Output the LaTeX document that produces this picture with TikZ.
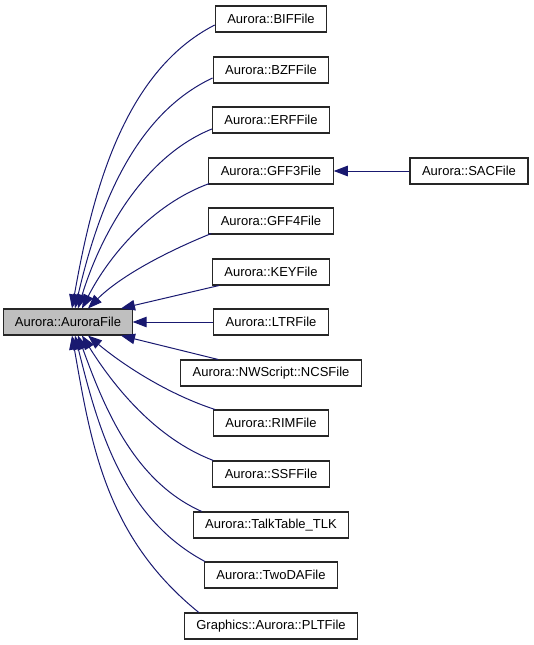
\documentclass[tikz,border=0pt]{standalone}
\usepackage{fontspec}
\setmainfont{Liberation Sans}
\usetikzlibrary{arrows.meta,calc}
\definecolor{edgeblue}{HTML}{191970}
\definecolor{rootfill}{HTML}{BFBFBF}
\begin{document}
\begin{tikzpicture}[x=1pt,y=-1pt,
  cls/.style={draw=black!85, line width=1.1pt, inner xsep=12pt, inner ysep=0pt,
    minimum height=26pt, font=\fontsize{13}{15}\selectfont, fill=white},
  root/.style={cls, inner xsep=11pt, fill=rootfill},
  inh/.style={draw=edgeblue, line width=1pt,
    {Triangle[length=14pt,width=10.5pt,fill=edgeblue]}-}]
\useasboundingbox (0,0) rectangle (533,645);
% nodes
\node[root] (aur) at (68,322) {Aurora::AuroraFile};
\node[cls] (bif)   at (271,19)    {Aurora::BIFFile};
\node[cls] (bzf)   at (271,70)    {Aurora::BZFFile};
\node[cls] (erf)   at (271,120)   {Aurora::ERFFile};
\node[cls] (gff3)  at (271,171)   {Aurora::GFF3File};
\node[cls] (sac)   at (469,171)   {Aurora::SACFile};
\node[cls] (gff4)  at (271,221)   {Aurora::GFF4File};
\node[cls] (key)   at (271,272)   {Aurora::KEYFile};
\node[cls] (ltr)   at (271,322)   {Aurora::LTRFile};
\node[cls] (ncs)   at (271,373)   {Aurora::NWScript::NCSFile};
\node[cls] (rim)   at (271,423)   {Aurora::RIMFile};
\node[cls] (ssf)   at (271,474)   {Aurora::SSFFile};
\node[cls] (tlk)   at (271,525)   {Aurora::TalkTable\_TLK};
\node[cls] (twoda) at (271,575)   {Aurora::TwoDAFile};
\node[cls] (plt)   at (271,626)   {Graphics::Aurora::PLTFile};
% edges (arrow at parent)
\draw[inh] ($(aur.north)+(4,0)$)  to[out=80,in=207,out distance=110pt,in distance=105pt] ($(bif.west)+(0,6)$);
\draw[inh] ($(aur.north)+(7,0)$)  to[out=77,in=205,out distance=95pt,in distance=90pt]   ($(bzf.west)+(0,8)$);
\draw[inh] ($(aur.north)+(10,0)$) to[out=73,in=202,out distance=75pt,in distance=75pt]   ($(erf.west)+(0,9)$);
\draw[inh] ($(aur.north)+(14,0)$) to[out=63,in=200,out distance=60pt,in distance=60pt]   ($(gff3.south west)+(1,-1)$);
\draw[inh] ($(aur.north)+(20,0)$) to[out=45,in=202,out distance=45pt,in distance=50pt]   ($(gff4.south west)+(3,-1)$);
\draw[inh] ($(aur.north)+(53,0)$) -- ($(key.south west)+(7,0)$);
\draw[inh] (aur.east) -- (ltr.west);
\draw[inh] ($(aur.south)+(53,0)$) -- ($(ncs.north west)+(38,0)$);
\draw[inh] ($(aur.south)+(20,0)$) to[out=-40,in=162,out distance=45pt,in distance=50pt]  ($(rim.north west)+(2,0)$);
\draw[inh] ($(aur.south)+(14,0)$) to[out=-58,in=159,out distance=60pt,in distance=62pt]  ($(ssf.north west)+(1,0)$);
\draw[inh] ($(aur.south)+(10,0)$) to[out=-70,in=156,out distance=75pt,in distance=75pt]  ($(tlk.north west)+(9,0)$);
\draw[inh] ($(aur.south)+(7,0)$)  to[out=-76,in=152,out distance=90pt,in distance=95pt]  ($(twoda.north west)+(1,0)$);
\draw[inh] ($(aur.south)+(4,0)$)  to[out=-80,in=141,out distance=110pt,in distance=120pt] ($(plt.north west)+(15,0)$);
\draw[inh] (gff3.east) -- (sac.west);
\end{tikzpicture}
\end{document}
